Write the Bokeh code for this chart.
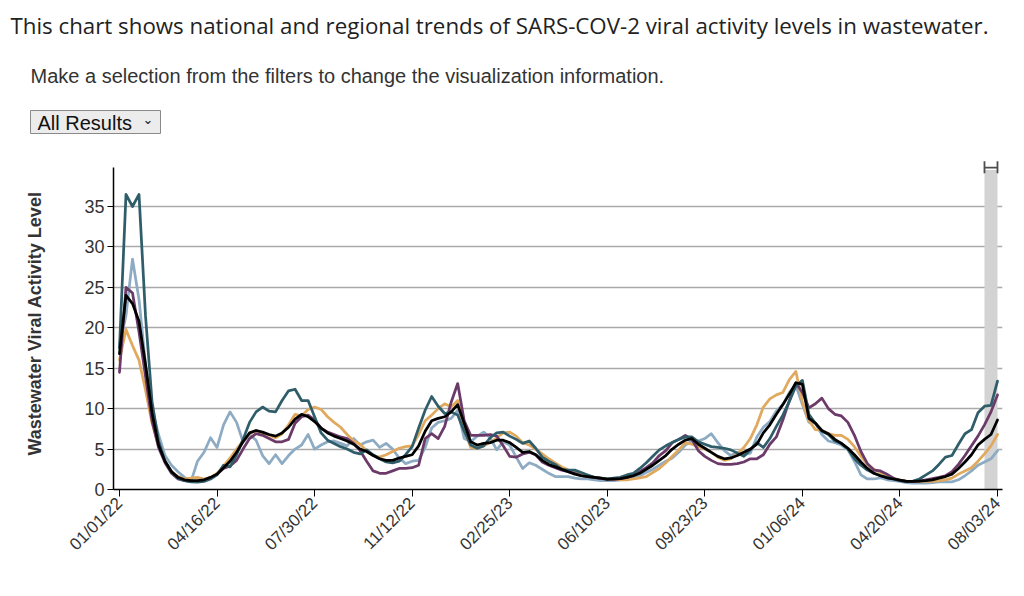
import math
import pandas as pd
from bokeh.plotting import figure
from bokeh.layouts import column
from bokeh.models import Range1d, FixedTicker, DatetimeTickFormatter, BoxAnnotation
from bokeh.core.properties import value
from bokeh.embed import file_html
from bokeh.resources import INLINE

# ---------------- data ----------------
start_date = "2022-01-01"
dates = pd.date_range(start_date, periods=136, freq="7D")

tick_labels = ["01/01/22", "04/16/22", "07/30/22", "11/12/22", "02/25/23",
               "06/10/23", "09/23/23", "01/06/24", "04/20/24", "08/03/24"]
y_ticks = [0, 5, 10, 15, 20, 25, 30, 35]

title_text = "This chart shows national and regional trends of SARS-COV-2 viral activity levels in wastewater."
subtitle_text = "Make a selection from the filters to change the visualization information."
filter_text = "All Results"

national = [16.8, 24.0, 23.0, 20.8, 15.5, 9.5, 5.5, 3.5, 2.2, 1.5, 1.2, 1.1, 1.1, 1.2, 1.5, 1.9,
            2.7, 3.5, 4.6, 5.9, 7.0, 7.3, 7.1, 6.8, 6.6, 7.0, 7.7, 8.7, 9.3, 9.0, 8.4, 7.6, 7.0,
            6.6, 6.3, 6.0, 5.6, 5.0, 4.7, 4.2, 3.8, 3.6,
            3.6, 3.9, 4.1, 4.3, 5.4, 7.2, 8.5, 8.8, 9.0, 9.6, 10.5, 8.2, 5.9, 5.5, 5.7, 5.8, 6.1,
            6.1, 5.8,
            5.2, 4.6, 4.7, 4.3, 3.6, 3.1, 2.8, 2.5, 2.2, 1.9, 1.7, 1.6, 1.5, 1.4, 1.25, 1.3, 1.35,
            1.5, 1.7, 2.0, 2.5, 3.0, 3.6, 4.2,
            5.0, 5.6, 6.1, 6.3, 5.6, 5.1, 4.6, 4.1, 3.8, 3.9, 4.2, 4.6, 5.0, 5.6, 7.0, 8.0, 9.3,
            10.5, 11.8, 13.2, 13.0, 8.8, 8.2, 7.3, 6.9,
            6.2, 5.7, 5.1, 4.3, 3.4, 2.6, 2.0, 1.7, 1.45, 1.3, 1.15, 1.0, 1.0, 1.05, 1.1, 1.2,
            1.4, 1.6, 1.9, 2.6, 3.4, 4.3, 5.5, 6.2, 6.8, 8.6]

midwest = [16.0, 19.8, 17.8, 16.0, 12.3, 8.2, 5.5, 3.5, 2.2, 1.6, 1.3, 1.4, 1.5, 1.3, 1.5, 2.0,
           2.9, 3.9, 5.0, 6.0, 6.9, 7.3, 7.0, 6.7, 6.4, 6.9, 8.0, 9.3, 9.1, 9.9, 10.2, 9.9, 9.0,
           8.3, 7.7, 6.8, 6.0, 5.6,
           4.8, 4.2, 4.0, 4.3, 4.7, 5.1, 5.3, 5.4, 6.8, 8.5, 9.2, 10.0, 10.6, 10.2, 11.0, 7.5,
           5.2, 5.1, 5.4, 5.8, 6.4, 7.0, 7.1,
           6.6, 5.8, 5.5, 5.0, 4.4, 3.8, 3.3, 2.8, 2.4, 2.1, 1.9, 1.7, 1.5, 1.4, 1.3, 1.25, 1.2,
           1.2, 1.3, 1.45, 1.6, 2.1, 2.6, 3.3,
           4.1, 4.9, 5.8, 5.6, 5.3, 5.0, 4.6, 4.0, 3.6, 3.8, 4.4, 5.2, 6.3, 8.0, 10.2, 11.2, 11.7,
           12.0, 13.6, 14.6, 10.8, 8.5, 7.4, 7.3, 6.9,
           6.7, 6.7, 6.2, 5.3, 4.1, 3.1, 2.5, 2.1, 1.7, 1.4, 1.15, 1.05, 1.0, 1.0, 1.0, 1.0, 1.1,
           1.2, 1.4, 1.9, 2.3, 2.7, 3.5, 4.4, 5.4, 6.8]

south = [14.5, 25.0, 24.3, 19.5, 14.0, 8.5, 5.2, 3.3, 2.0, 1.3, 1.1, 1.0, 1.0, 1.1, 1.4, 1.9,
         2.6, 2.9, 3.6, 5.0, 6.3, 6.9, 6.7, 6.3, 5.9, 5.9, 6.2, 8.2, 9.0, 9.2, 8.6, 7.6, 7.1,
         6.8, 6.5, 6.3, 5.7, 4.8,
         3.5, 2.3, 2.0, 2.0, 2.3, 2.6, 2.6, 2.7, 3.0, 6.3, 6.9, 6.3, 7.8, 10.8, 13.1, 8.5, 6.7,
         6.7, 6.7, 6.8, 6.6, 5.4, 4.1,
         4.0, 4.4, 4.6, 4.3, 3.4, 3.0, 2.7, 2.4, 2.2, 2.0, 1.7, 1.6, 1.5, 1.35, 1.3, 1.25, 1.35,
         1.5, 1.7, 2.2, 2.7, 3.3, 4.2, 4.8,
         5.8, 6.2, 6.7, 6.2, 4.8, 4.1, 3.6, 3.2, 3.1, 3.1, 3.2, 3.4, 3.8, 3.8, 4.3, 5.6, 6.5,
         8.6, 11.0, 13.2, 12.0, 10.1, 10.6, 11.3, 10.0,
         9.3, 9.1, 8.3, 6.7, 4.7, 3.2, 2.4, 2.3, 1.9, 1.4, 1.1, 1.0, 1.0, 1.05, 1.2, 1.35, 1.5,
         1.7, 2.2, 3.1, 4.2, 5.4, 6.6, 8.0, 9.6, 11.7]

northeast = [17.5, 36.5, 35.0, 36.5, 21.5, 10.9, 6.0, 3.5, 2.2, 1.4, 1.1, 0.95, 0.9, 1.0, 1.3, 1.8,
             3.0, 2.8, 4.3, 6.2, 8.3, 9.6, 10.2, 9.7, 9.6, 11.0, 12.2, 12.4, 11.0, 11.0, 9.0, 7.0,
             6.1, 5.7, 5.3, 5.0, 4.6, 4.4, 4.9, 4.3, 3.8, 3.4, 3.3, 3.5, 4.3, 5.3, 7.6,
             9.8, 11.5, 10.3, 9.4, 9.6, 9.2, 7.2, 5.5, 5.1, 5.4, 6.4, 7.0, 7.1, 6.6,
             6.2, 5.7, 6.0, 5.1, 4.0, 3.5, 3.1, 2.5, 2.4, 2.4, 2.1, 1.8, 1.5, 1.4, 1.3, 1.4, 1.5,
             1.8, 2.0, 2.6, 3.3, 4.1, 4.9, 5.4,
             5.8, 6.2, 6.5, 6.5, 5.9, 5.6, 5.3, 5.2, 5.1, 4.9, 4.5, 4.1, 4.9, 5.8, 5.2, 6.3, 7.8,
             9.2, 10.9, 12.8, 13.5, 9.3, 8.2, 7.2, 6.8,
             6.0, 5.7, 5.0, 3.8, 3.0, 2.4, 2.0, 1.7, 1.5, 1.3, 1.1, 1.0, 1.05, 1.3, 1.8, 2.3, 3.1,
             4.0, 4.2, 5.6, 6.9, 7.4, 9.5, 10.3, 10.4, 13.4]

west = [17.8, 21.5, 28.5, 23.5, 15.5, 10.0, 6.8, 4.2, 3.0, 2.2, 1.5, 1.0, 3.5, 4.6, 6.4, 5.2,
        8.0, 9.6, 8.3, 5.9, 6.8, 6.1, 4.2, 3.2, 4.3, 3.2, 4.2, 5.0, 5.5, 6.8, 5.0, 5.5, 5.9,
        6.0, 5.7, 5.4, 6.3, 5.5, 5.9, 6.1, 5.2, 5.7, 5.0, 3.9, 3.2, 3.5, 3.6,
        5.2, 7.6, 8.3, 8.5, 8.8, 9.8, 6.3, 5.9, 6.6, 7.1, 6.4, 4.9, 5.9, 5.5,
        4.0, 2.6, 3.3, 3.0, 2.5, 2.0, 1.6, 1.6, 1.6, 1.4, 1.3, 1.3, 1.2, 1.1, 1.1, 1.1, 1.2,
        1.3, 1.5, 1.7, 2.1, 2.5, 3.0, 3.5,
        3.9, 4.6, 5.5, 6.0, 6.0, 6.3, 6.9, 5.8, 4.8, 4.2, 4.6, 4.3, 4.5, 6.5, 7.7, 8.4, 9.7,
        10.5, 12.0, 12.9, 10.5, 8.3, 8.2, 6.8, 6.0,
        5.8, 5.5, 4.9, 3.5, 1.8, 1.3, 1.3, 1.45, 1.2, 1.1, 1.0, 0.85, 0.8, 0.8, 0.8, 0.85,
        0.95, 0.95, 0.95, 1.2, 1.7, 2.3, 3.0, 3.4, 3.8, 4.8]

series = [("West", west, "#8eabc4"),
          ("Midwest", midwest, "#e0a95e"),
          ("South", south, "#6b3a68"),
          ("Northeast", northeast, "#2f5e6a"),
          ("National", national, "#000000")]

highlight_weeks = (133, 135)

FONT = "Liberation Sans"
W = 1008
HDR_H = 140

# ---------------- header (title, subtitle, filter box) ----------------
hdr = figure(width=W, height=HDR_H, output_backend="svg", toolbar_location=None, tools="",
             x_axis_type=None, y_axis_type=None,
             x_range=Range1d(0, W), y_range=Range1d(HDR_H, 0),
             min_border=0, min_border_left=0, min_border_right=0,
             min_border_top=0, min_border_bottom=0)
hdr.title.visible = False
hdr.outline_line_color = None
hdr.grid.visible = False
hdr.frame_align = False

hdr.text(x=[10], y=[25], text=[title_text], text_font=value("Open Sans"),
         text_font_size="22.3px", text_color="#222222", text_baseline="middle")
hdr.text(x=[30], y=[75], text=[subtitle_text], text_font=value(FONT),
         text_font_size="20px", text_color="#333333", text_baseline="middle")
hdr.quad(left=[30], right=[160], top=[110], bottom=[133], fill_color="#ececec",
         line_color="#8a8a8a", line_width=1)
hdr.text(x=[37], y=[122], text=[filter_text], text_font=value(FONT),
         text_font_size="20px", text_color="#111111", text_baseline="middle")
hdr.text(x=[142], y=[119], text=["⌄"], text_font=value("DejaVu Sans"),
         text_font_size="13px", text_color="#111111", text_baseline="middle")

# ---------------- main chart ----------------
WEEK_MS = 7 * 24 * 3600 * 1000
t0 = pd.Timestamp(start_date).value / 1e6
x_start = t0 - 0.92 * WEEK_MS
x_end = t0 + 135.77 * WEEK_MS

p = figure(width=W, height=580 - HDR_H, output_backend="svg", toolbar_location=None,
           x_axis_type="datetime",
           x_range=Range1d(x_start, x_end), y_range=Range1d(0, 41.06),
           min_border_left=113, min_border_right=6, min_border_top=157 - HDR_H,
           min_border_bottom=91, tools="")
p.title.visible = False
p.outline_line_color = None
p.frame_align = False

band = BoxAnnotation(left=dates[highlight_weeks[0]], right=dates[highlight_weeks[1]],
                     bottom=0, top=39.5, fill_color="#d3d3d3", fill_alpha=1.0,
                     line_alpha=0, level="underlay")
p.add_layout(band)

bx0, bx1 = dates[highlight_weeks[0]], dates[highlight_weeks[1]]
p.segment(x0=[bx0, bx1, bx0], y0=[39.1, 39.1, 39.8], x1=[bx0, bx1, bx1], y1=[40.6, 40.6, 39.8],
          line_color="#4d4d4d", line_width=1.8)

for name, vals, col in series:
    p.line(dates, vals, line_color=col, line_width=2.75, line_join="round", line_cap="round")

tick_ms = [pd.Timestamp(pd.to_datetime(t, format="%m/%d/%y")).value / 1e6 for t in tick_labels]
p.xaxis.ticker = FixedTicker(ticks=tick_ms)
fmt = "%m/%d/%y"
p.xaxis.formatter = DatetimeTickFormatter(milliseconds=fmt, seconds=fmt, minsec=fmt, minutes=fmt,
                                          hourmin=fmt, hours=fmt, days=fmt, months=fmt, years=fmt)
p.xaxis.major_label_orientation = math.pi / 4
p.xaxis.major_tick_out = 7
p.xaxis.major_tick_in = 0
p.xaxis.minor_tick_line_color = None
p.xaxis.major_label_text_font = FONT
p.xaxis.major_label_text_font_size = "17px"
p.xaxis.major_label_text_color = "#333333"
p.xaxis.axis_line_color = "#000000"
p.xaxis.axis_line_width = 1.5
p.xaxis.major_tick_line_color = "#000000"
p.xaxis.major_label_standoff = 4

p.yaxis.ticker = FixedTicker(ticks=y_ticks)
p.yaxis.bounds = (0, 39.8)
p.yaxis.major_tick_out = 6
p.yaxis.major_tick_in = 0
p.yaxis.minor_tick_line_color = None
p.yaxis.major_label_text_font = FONT
p.yaxis.major_label_text_font_size = "18px"
p.yaxis.major_label_text_color = "#333333"
p.yaxis.axis_line_color = "#000000"
p.yaxis.axis_line_width = 1.5
p.yaxis.major_tick_line_color = "#000000"
p.yaxis.major_label_standoff = 3
p.yaxis.axis_label = "Wastewater Viral Activity Level"
p.yaxis.axis_label_text_font = FONT
p.yaxis.axis_label_text_font_size = "18px"
p.yaxis.axis_label_text_font_style = "bold"
p.yaxis.axis_label_text_color = "#333333"
p.yaxis.axis_label_standoff = 36

p.xgrid.grid_line_color = None
p.ygrid.grid_line_color = "#aaaaaa"
p.ygrid.grid_line_width = 1.5

layout = column(hdr, p, spacing=0)
open("out.html", "w").write(file_html(layout, INLINE))
